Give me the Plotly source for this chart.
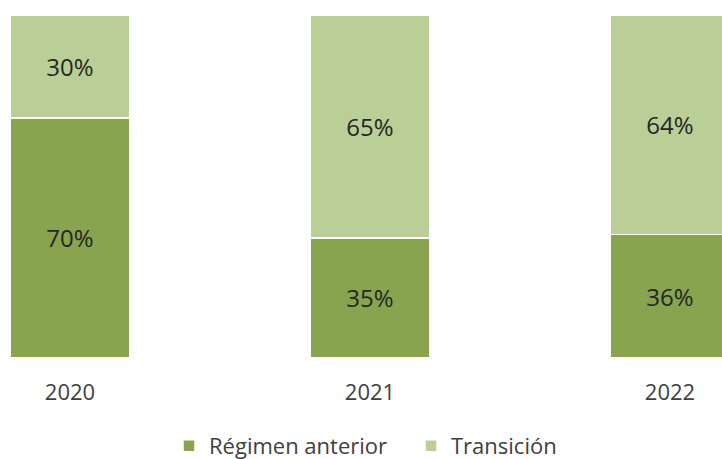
import plotly.graph_objects as go

years = ["2020", "2021", "2022"]
regimen_anterior = [70, 35, 36]
transicion = [30, 65, 64]
series_names = ["Régimen anterior", "Transición"]
colors = ["#88A44E", "#B9CF96"]

fig = go.Figure()
for name, vals, col in zip(series_names, [regimen_anterior, transicion], colors):
    fig.add_trace(go.Bar(
        x=years, y=vals, name=name,
        marker=dict(color=col, line=dict(color="white", width=1.5)),
        text=[f"{v}%" for v in vals],
        textposition="inside", insidetextanchor="middle",
        textfont=dict(family="Open Sans", size=24, color="#262626"),
        width=0.4,
    ))

fig.update_layout(
    barmode="stack",
    width=722, height=459,
    margin=dict(l=0, r=0, t=15, b=101),
    plot_bgcolor="white", paper_bgcolor="white",
    font=dict(family="Open Sans", size=22, color="#404040"),
    showlegend=True,
    legend=dict(orientation="h", x=169/722, xanchor="left",
                yref="container", y=(459-446)/459, yanchor="middle",
                font=dict(size=22, color="#404040"), itemwidth=30,
                entrywidth=197, entrywidthmode="pixels", traceorder="normal"),
    xaxis=dict(range=[-70/300, -70/300 + 722/300], showgrid=False, zeroline=False,
               showline=False, ticks="", ticklabelstandoff=19, tickfont=dict(size=22)),
    yaxis=dict(range=[0, 100], visible=False),
)
fig.write_html("out.html", post_script="document.body.style.margin='0';",
               config={"displayModeBar": False})
